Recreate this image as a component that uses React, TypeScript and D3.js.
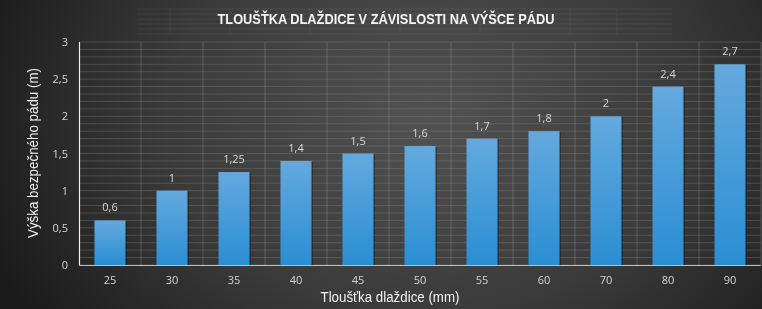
import React from "react";
import * as d3 from "d3";

const categories = ["25", "30", "35", "40", "45", "50", "55", "60", "70", "80", "90"];
const values = [0.6, 1, 1.25, 1.4, 1.5, 1.6, 1.7, 1.8, 2, 2.4, 2.7];
const valueLabels = ["0,6", "1", "1,25", "1,4", "1,5", "1,6", "1,7", "1,8", "2", "2,4", "2,7"];
const yTicks = [0, 0.5, 1, 1.5, 2, 2.5, 3];
const yTickLabels = ["0", "0,5", "1", "1,5", "2", "2,5", "3"];

const title = "TLOUŠŤKA DLAŽDICE V ZÁVISLOSTI NA VÝŠCE PÁDU";
const xTitle = "Tloušťka dlaždice (mm)";
const yTitle = "Výška bezpečného pádu (m)";

export default function App() {
  const W = 762, H = 309;
  const left = 79, right = 761, top = 42, bottom = 265;
  const x = d3.scaleBand<string>().domain(categories).range([left, right]).paddingInner(0.5).paddingOuter(0.25);
  const xb = d3.scaleBand<string>().domain(categories).range([left, right]).padding(0);
  const y = d3.scaleLinear().domain([0, 3]).range([bottom, top]);
  const minor = d3.range(0, 31).map((i) => i / 10);
  const font = "'Open Sans', 'Noto Sans', sans-serif";
  const titleGrid = d3.range(0, 6);
  return (
    <div style={{ position: "fixed", left: 0, top: 0, width: W, height: H }}>
      <svg width={W} height={H} style={{ display: "block" }}>
        <defs>
          <radialGradient id="bg" cx="0.56" cy="0.38" r="0.62" gradientTransform="translate(0.56 0.38) scale(1 1.9) translate(-0.56 -0.38)">
            <stop offset="0" stopColor="#525252" />
            <stop offset="0.55" stopColor="#3a3a3a" />
            <stop offset="1" stopColor="#1b1b1b" />
          </radialGradient>
          <linearGradient id="bar" x1="0" y1="0" x2="0" y2="1">
            <stop offset="0" stopColor="#64a9de" />
            <stop offset="1" stopColor="#2a8ed3" />
          </linearGradient>
        </defs>
        <rect x={0} y={0} width={W} height={H} fill="url(#bg)" />
        {/* faint title box grid */}
        <g opacity={0.12} stroke="#bbb" strokeWidth={0.8}>
          {titleGrid.map((i) => (
            <line key={"tg" + i} x1={137} x2={672} y1={9 + i * 5} y2={9 + i * 5} />
          ))}
          {[170, 230, 310, 400, 480, 570, 617].map((v) => (
            <line key={"tv" + v} x1={v} x2={v} y1={9} y2={34} />
          ))}
        </g>
        {/* minor horizontal grid */}
        {minor.map((v) => (
          <line key={"m" + v} x1={left} x2={right} y1={y(v)} y2={y(v)} stroke="#8a8a8a" strokeOpacity={0.35} strokeWidth={1} />
        ))}
        {/* vertical grid at category boundaries */}
        {categories.map((c) => (
          <line key={"v" + c} x1={(xb(c) as number) + xb.bandwidth()} x2={(xb(c) as number) + xb.bandwidth()} y1={top} y2={bottom} stroke="#8a8a8a" strokeOpacity={0.45} />
        ))}
        {/* bars */}
        {categories.map((c, i) => (
          <g key={"b" + c}>
            <rect x={(x(c) as number) + 1.5} y={y(values[i]) + 1} width={x.bandwidth()} height={bottom - y(values[i]) - 1} fill="#000" opacity={0.3} />
            <rect x={x(c) as number} y={y(values[i])} width={x.bandwidth()} height={bottom - y(values[i])} fill="url(#bar)" />
            <text x={(x(c) as number) + x.bandwidth() / 2} y={y(values[i]) - 9} textAnchor="middle" fill="#d8d8d8" fontSize={11} fontFamily={font}>
              {valueLabels[i]}
            </text>
          </g>
        ))}
        {/* axes */}
        <line x1={left} x2={right} y1={bottom + 0.5} y2={bottom + 0.5} stroke="#bdbdbd" strokeWidth={1} />
        <line x1={left + 0.5} x2={left + 0.5} y1={top} y2={bottom} stroke="#f0f0f0" strokeWidth={1.2} />
        {yTicks.map((v, i) => (
          <text key={"yt" + v} x={68} y={y(v) + 4} textAnchor="end" fill="#d4d4d4" fontSize={11} fontFamily={font}>
            {yTickLabels[i]}
          </text>
        ))}
        {categories.map((c) => (
          <text key={"xt" + c} x={(xb(c) as number) + xb.bandwidth() / 2} y={284} textAnchor="middle" fill="#d4d4d4" fontSize={11} fontFamily={font}>
            {c}
          </text>
        ))}
        <text x={390} y={302} textAnchor="middle" fill="#f2f2f2" fontSize={14} textLength={139} lengthAdjust="spacingAndGlyphs" fontFamily="'Liberation Sans', Arial, sans-serif">
          {xTitle}
        </text>
        <text transform={`translate(38, ${153}) rotate(-90)`} textAnchor="middle" fill="#f2f2f2" fontSize={14} textLength={170} lengthAdjust="spacingAndGlyphs" fontFamily="'Liberation Sans', Arial, sans-serif">
          {yTitle}
        </text>
        <text x={386} y={24} textAnchor="middle" fill="#f4f4f4" fontSize={15} fontWeight="bold" textLength={337} lengthAdjust="spacingAndGlyphs" fontFamily="'Liberation Sans', Arial, sans-serif">
          {title}
        </text>
      </svg>
    </div>
  );
}
